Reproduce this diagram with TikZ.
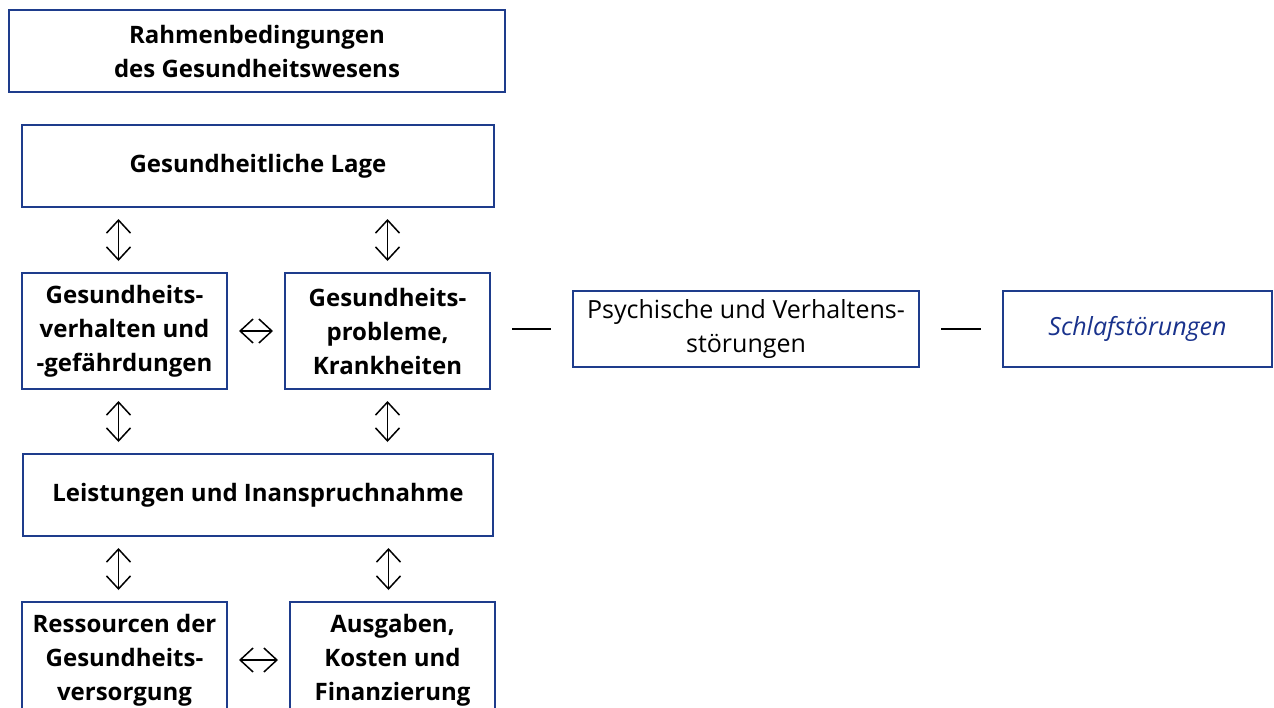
\documentclass[tikz,border=0pt]{standalone}
\usepackage{fontspec}
\setmainfont{Open Sans}
\usetikzlibrary{arrows.meta}

\definecolor{rahmen}{RGB}{30,60,140}
\definecolor{schrift}{RGB}{25,50,140}

\tikzset{
  box/.style={draw=rahmen, line width=1pt, align=center, inner sep=2pt,
    font=\fontsize{12}{17}\selectfont\bfseries},
  link/.style={{Straight Barb[length=6.5pt,width=12pt]}-{Straight Barb[length=6.5pt,width=12pt]},
    line width=0.75pt, shorten >=5.5pt, shorten <=5.5pt},
  dash line/.style={line width=0.75pt, shorten >=10.5pt, shorten <=10.5pt}
}

\begin{document}
\begin{tikzpicture}[x=0.5pt,y=-0.5pt]
  \useasboundingbox (0,0) rectangle (1274,707);
  \clip (0,0) rectangle (1274,707);

  \node[box, minimum width=248pt, minimum height=41pt] (rahmen) at (257,51)
    {Rahmenbedingungen\\des Gesundheitswesens};
  \node[box, minimum width=236pt, minimum height=41pt] (lage) at (258,166)
    {Gesundheitliche Lage};

  \node[box, minimum width=102.5pt, minimum height=58pt] (verhalten) at (124.5,331)
    {Gesundheits-\\verhalten und\\-gefährdungen};
  \node[box, minimum width=102.5pt, minimum height=58pt] (probleme) at (387.5,331)
    {Gesundheits-\\probleme,\\Krankheiten};

  \node[box, minimum width=235pt, minimum height=41pt] (leistungen) at (258,495)
    {Leistungen und Inanspruchnahme};

  \node[box, minimum width=102.5pt, minimum height=58pt] (ressourcen) at (124.5,660)
    {Ressourcen der\\Gesundheits-\\versorgung};
  \node[box, minimum width=102.5pt, minimum height=58pt] (ausgaben) at (392.5,660)
    {Ausgaben,\\Kosten und\\Finanzierung};

  \node[box, font=\fontsize{12.5}{17}\selectfont, minimum width=173pt, minimum height=38pt] (psychisch) at (746,329)
    {Psychische und Verhaltens-\\störungen};
  \node[box, font=\fontsize{12.5}{17}\selectfont\itshape, text=schrift, minimum width=134.5pt, minimum height=38pt] (schlaf) at (1137.5,329)
    {Schlafstörungen};

  % Pfeile
  \draw[link] ([xshift=-3pt]verhalten.north |- lage.south) -- ([xshift=-3pt]verhalten.north);
  \draw[link] (probleme.north |- lage.south) -- (probleme.north);
  \draw[link] (verhalten.east) -- (probleme.west);
  \draw[link] ([xshift=-3pt]verhalten.south) -- ([xshift=-3pt]verhalten.south |- leistungen.north);
  \draw[link] (probleme.south) -- (probleme.south |- leistungen.north);
  \draw[link] ([xshift=-3pt]ressourcen.north |- leistungen.south) -- ([xshift=-3pt]ressourcen.north);
  \draw[link] ([xshift=-2pt]ausgaben.north |- leistungen.south) -- ([xshift=-2pt]ausgaben.north);
  \draw[link] (ressourcen.east) -- (ausgaben.west);

  \draw[dash line] (probleme.east |- psychisch.west) -- (psychisch.west);
  \draw[dash line] (psychisch.east) -- (schlaf.west);
\end{tikzpicture}
\end{document}
